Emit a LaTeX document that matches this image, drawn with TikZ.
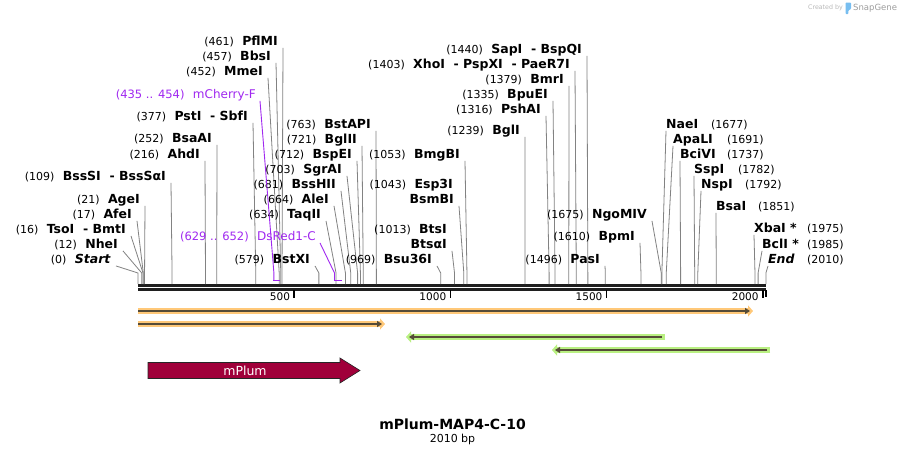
\documentclass[tikz,border=0pt]{standalone}
\usepackage{fontspec}
\setmainfont{DejaVu Sans}
\usetikzlibrary{positioning,arrows.meta}

\definecolor{cutgray}{RGB}{130,130,130}
\definecolor{primerpurple}{RGB}{160,40,240}
\definecolor{orangeglow}{RGB}{255,200,120}
\definecolor{greenglow}{RGB}{185,240,130}
\definecolor{featline}{RGB}{85,75,55}
\definecolor{plumred}{RGB}{160,0,58}
\definecolor{logogray}{RGB}{185,185,185}
\definecolor{logoblue}{RGB}{120,190,240}

\tikzset{
  enz/.style={font=\fontsize{12.5}{14}\selectfont\bfseries, inner sep=0pt, text height=9pt, text depth=2.5pt},
  sitenum/.style={font=\fontsize{11}{13}\selectfont, inner sep=0pt, text height=9pt, text depth=2.5pt},
  primername/.style={font=\fontsize{12}{14}\selectfont, text=primerpurple, inner sep=0pt, text height=9pt, text depth=2.5pt},
  primernum/.style={primername, font=\fontsize{11.5}{13}\selectfont},
  cutline/.style={draw=cutgray, line width=0.8pt},
  primerline/.style={draw=primerpurple, line width=0.9pt},
  ticklbl/.style={font=\fontsize{10.5}{12}\selectfont, inner sep=0pt},
  featglow/.style={line width=5.5pt, -{Triangle[length=5pt,width=11pt]}},
  featarrow/.style={draw=featline, line width=1.8pt, -{Triangle[length=5pt,width=6pt]}},
}

\begin{document}
\begin{tikzpicture}[x=1pt, y=-1pt]

  \fill[white] (0,0) rectangle (905,455);
  \useasboundingbox (0,0) rectangle (905,455);

  % Backbone
  \draw[line width=2.6pt, black!88] (138,285.3) -- (766,285.3);
  \draw[line width=2.6pt, black!88] (138,289.4) -- (766,289.4);

  % Ruler ticks
  \foreach \t in {500,1000,1500,2000} {
    \draw[line width=1.6pt] ({138+0.3124*\t},290) -- ({138+0.3124*\t},298);
    \node[ticklbl, anchor=east] (tick\t) at ({138+0.3124*\t-4},296.5) {\t};
  }
  \draw[line width=1.2pt] (766,290) -- (766,297);

  % Sites labelled on the left of their line
  \foreach \id/\txt/\n/\ex/\ty in {
      pflmi/PflMI/461/278/42, bbsi/BbsI/457/271/57, mmei/MmeI/452/263/72,
      psti/{PstI\ \ -\ SbfI}/377/248/117, bsaai/BsaAI/252/212/139,
      ahdi/AhdI/216/200/155, bsssi/{BssSI\ \ -\ BssSαI}/109/166/177,
      agei/AgeI/21/140/200, afei/AfeI/17/132/215,
      tsoi/{TsoI\ \ -\ BmtI}/16/126/230, nhei/NheI/12/118/245,
      startsite/\textit{Start}/0/111/260,
      bstapi/BstAPI/763/371/125, bglii/BglII/721/357/140,
      bspei/BspEI/712/352/155, sgrai/SgrAI/703/342/170,
      bsshii/BssHII/681/336/185, alei/AleI/664/329/200,
      taqii/TaqII/634/321/215, bstxi/BstXI/579/310/260,
      bsu36i/Bsu36I/969/432/260, bmgbi/BmgBI/1053/460/155,
      bgli/BglI/1239/520/131, pshai/PshAI/1316/541/110,
      bpuei/BpuEI/1335/548/95, bmri/BmrI/1379/564/80,
      xhoi/{XhoI\ \ -\ PspXI\ \ -\ PaeR7I}/1403/570/65,
      sapi/{SapI\ \ -\ BspQI}/1440/582/50,
      ngomiv/NgoMIV/1675/647/215, bpmi/BpmI/1610/635/237,
      pasi/PasI/1496/600/260} {
    \node[enz, anchor=east] (\id) at (\ex,\ty) {\txt};
    \node[sitenum, left=8pt of \id] (\id-n) {(\n)};
    \draw[cutline] ([xshift=5pt]\id.south east) -- ({138+0.3124*\n},273) -- ({138+0.3124*\n},284);
  }

  % Sites labelled on the right of their line
  \foreach \id/\txt/\n/\wx/\ty/\nx in {
      naei/NaeI/1677/666/125/711, apali/ApaLI/1691/673/140/727,
      bcivi/BciVI/1737/680/155/727, sspi/SspI/1782/694/170/738,
      nspi/NspI/1792/701/185/745, bsai/BsaI/1851/716/207/758,
      xbai/{XbaI *}/1975/754/229/807, bcli/{BclI *}/1985/762/245/807,
      endsite/\textit{End}/2010/768/260/807} {
    \node[enz, anchor=west] (\id) at (\wx,\ty) {\txt};
    \node[sitenum, anchor=west] (\id-n) at (\nx,\ty) {(\n)};
    \draw[cutline] (\id.south west) -- ({138+0.3124*\n},273) -- ({138+0.3124*\n},284);
  }

  % Stacked sites
  \node[enz, anchor=east] (btsi) at (447,230) {BtsI};
  \node[sitenum, left=8pt of btsi] (btsi-n) {(1013)};
  \node[enz, anchor=east] (btsai) at (447,245) {BtsαI};
  \draw[cutline] ([xshift=5pt]btsai.south east) -- (454.5,273) -- (454.5,284);

  \node[enz, anchor=east] (esp3i) at (453,185) {Esp3I};
  \node[sitenum, left=8pt of esp3i] (esp3i-n) {(1043)};
  \node[enz, anchor=east] (bsmbi) at (454,200) {BsmBI};
  \draw[cutline] ([xshift=5pt]bsmbi.south east) -- (463.8,273) -- (463.8,284);

  % Primers
  \node[primername, anchor=east] (mcherry) at (256,95) {mCherry-F};
  \node[primernum, left=8pt of mcherry] (mcherry-n) {(435 .. 454)};
  \draw[primerline] ([xshift=4pt]mcherry.south east) -- (273.9,273) -- (273.9,280.5);
  \draw[primerline, line width=1.8pt] (273.4,280.5) -- (279.8,280.5);

  \node[primername, anchor=east] (dsred) at (316,237) {DsRed1-C};
  \node[primernum, left=8pt of dsred] (dsred-n) {(629 .. 652)};
  \draw[primerline] ([xshift=4pt]dsred.south east) -- (334.5,273) -- (334.5,280.5);
  \draw[primerline, line width=1.8pt] (334,280.5) -- (341.7,280.5);

  % Features
  \draw[featglow, orangeglow] (138,311) -- (753,311);
  \draw[featarrow] (138,311) -- (750,311);
  \draw[featglow, orangeglow] (138,324) -- (385,324);
  \draw[featarrow] (138,324) -- (382,324);
  \draw[featglow, greenglow] (665,337) -- (406,337);
  \draw[featarrow] (662,337) -- (409,337);
  \draw[featglow, greenglow] (770,350) -- (552,350);
  \draw[featarrow] (767,350) -- (555,350);

  % mPlum
  \filldraw[fill=plumred, draw=black!85, line width=0.6pt]
    (148,362.5) -- (340,362.5) -- (340,358) -- (360,370.5) -- (340,383)
    -- (340,378.5) -- (148,378.5) -- cycle;
  \node[text=white, font=\fontsize{12.5}{14}\selectfont, inner sep=0pt] (mplum) at (245,370.5) {mPlum};

  % Title
  \node[font=\fontsize{14}{16}\selectfont\bfseries, inner sep=0pt] (title) at (452.5,424) {mPlum-MAP4-C-10};
  \node[font=\fontsize{11}{13}\selectfont, inner sep=0pt, below=4pt of title] (bplen) {2010 bp};

  % Created by SnapGene
  \node[font=\fontsize{6.3}{7}\selectfont, text=logogray, inner sep=0pt, anchor=east] (createdby) at (843,8) {Created by};
  \fill[logoblue, rounded corners=0.8pt] (845.5,2.5) -- (851,2.5) -- (851,9) -- (848.3,10.5) -- (848.3,14) -- (845.5,14) -- cycle;
  \node[font=\fontsize{8.5}{10}\selectfont, text=logogray!85!black, inner sep=0pt, anchor=west] (snapgene) at (853,8) {SnapGene};

\end{tikzpicture}
\end{document}
